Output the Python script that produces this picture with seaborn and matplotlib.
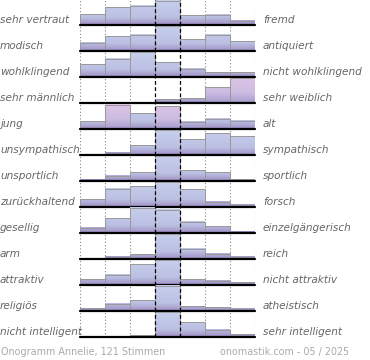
import numpy as np
import pandas as pd
import seaborn as sns
import matplotlib
matplotlib.use("Agg")
import matplotlib.pyplot as plt
from matplotlib.colors import LinearSegmentedColormap

sns.set_style("white")
plt.rcParams['font.family'] = ['DejaVu Sans']

left_labels = ["sehr vertraut", "modisch", "wohlklingend", "sehr männlich", "jung",
               "unsympathisch", "unsportlich", "zurückhaltend", "gesellig", "arm",
               "attraktiv", "religiös", "nicht intelligent"]
right_labels = ["fremd", "antiquiert", "nicht wohlklingend", "sehr weiblich", "alt",
                "sympathisch", "sportlich", "forsch", "einzelgängerisch", "reich",
                "nicht attraktiv", "atheistisch", "sehr intelligent"]
scale = [1, 2, 3, 4, 5, 6, 7]

# bar heights per row (row maximum = 25)
votes = [
    [11.0, 18.0, 19.5, 24.5, 9.7, 10.3, 4.3],
    [8.3, 15.0, 16.3, 25.0, 12.0, 16.3, 9.7],
    [12.7, 18.3, 25.0, 15.0, 8.3, 5.0, 5.0],
    [0.0, 0.0, 0.0, 4.0, 5.0, 15.7, 25.0],
    [8.0, 24.5, 15.7, 23.0, 7.3, 10.3, 8.3],
    [1.0, 2.3, 10.0, 25.0, 16.0, 22.0, 18.7],
    [1.3, 5.3, 8.7, 25.0, 10.7, 8.7, 2.0],
    [7.7, 18.3, 21.0, 25.0, 17.7, 5.3, 2.3],
    [5.0, 14.7, 25.0, 23.3, 11.3, 6.7, 1.0],
    [0.0, 2.3, 4.7, 25.0, 10.3, 5.3, 2.3],
    [5.7, 10.3, 20.7, 25.0, 5.7, 4.3, 2.7],
    [3.0, 7.3, 11.0, 25.0, 5.0, 4.0, 2.3],
    [0.0, 0.0, 2.0, 25.0, 14.7, 7.3, 3.0],
]
# bars drawn in pink (row, column)
pink_bars = [(3, 5), (3, 6), (4, 1), (4, 3)]

blue_cmap = LinearSegmentedColormap.from_list(
    "b", [(0, "#9280ba"), (0.08, "#a89dcc"), (0.3, "#bcc1e4"), (1, "#c8cfec")])
pink_cmap = LinearSegmentedColormap.from_list(
    "p", [(0, "#9280ba"), (0.08, "#aea2d0"), (0.4, "#cdbde2"), (1, "#ddc4e6")])

W, H = 370, 360
ROW = 26
fig = plt.figure(figsize=(W / 100, H / 100), dpi=100)

for i in range(len(votes)):
    base = 25 + ROW * i
    ax = fig.add_axes([80 / W, (H - base) / H, 175 / W, ROW / H])
    df = pd.DataFrame({"pos": scale, "votes": votes[i]})
    sns.barplot(data=df, x="pos", y="votes", color="#c6cdea", width=1.0,
                edgecolor="#999999", linewidth=0.7, ax=ax, zorder=2)
    ax.axvspan(2.5, 3.5, color="#ececec", zorder=0, lw=0)
    for j, p in enumerate(ax.patches):
        h = p.get_height()
        if h <= 0:
            p.set_visible(False)
            continue
        cmap = pink_cmap if (i, j) in pink_bars else blue_cmap
        x0 = p.get_x()
        grad = np.linspace(0, h / ROW, 128).reshape(-1, 1)
        ax.imshow(grad, extent=[x0, x0 + p.get_width(), 0, h], origin="lower",
                  cmap=cmap, vmin=0, vmax=1, aspect="auto", zorder=1.9)
        p.set_facecolor("none")
    for xv in [-0.5, 0.5, 1.5, 4.5, 5.5, 6.5]:
        ax.axvline(xv, color="#888888", lw=0.8, ls=(0, (1, 2)), zorder=1)
    for xv in [2.5, 3.5]:
        ax.axvline(xv, color="black", lw=0.9, ls=(0, (3, 2)), zorder=4)
    ax.axhline(0, color="black", lw=1.6, zorder=5, clip_on=False)
    ax.set_xlim(-0.5, 6.5)
    ax.set_ylim(0, ROW)
    ax.axis("off")

    y_txt = (H - (base - 5)) / H
    fig.text(0, y_txt, left_labels[i], ha="left", va="center", fontsize=7.6,
             style="italic", color="#666666")
    fig.text(263 / W, y_txt, right_labels[i], ha="left", va="center", fontsize=7.6,
             style="italic", color="#666666")

fig.text(1 / W, (H - 352) / H, "Onogramm Annelie, 121 Stimmen", ha="left", va="center",
         fontsize=6.9, color="#aaaaaa")
fig.text(220 / W, (H - 352) / H, "onomastik.com - 05 / 2025", ha="left", va="center",
         fontsize=6.9, color="#aaaaaa")

fig.savefig("out.png", dpi=100)
